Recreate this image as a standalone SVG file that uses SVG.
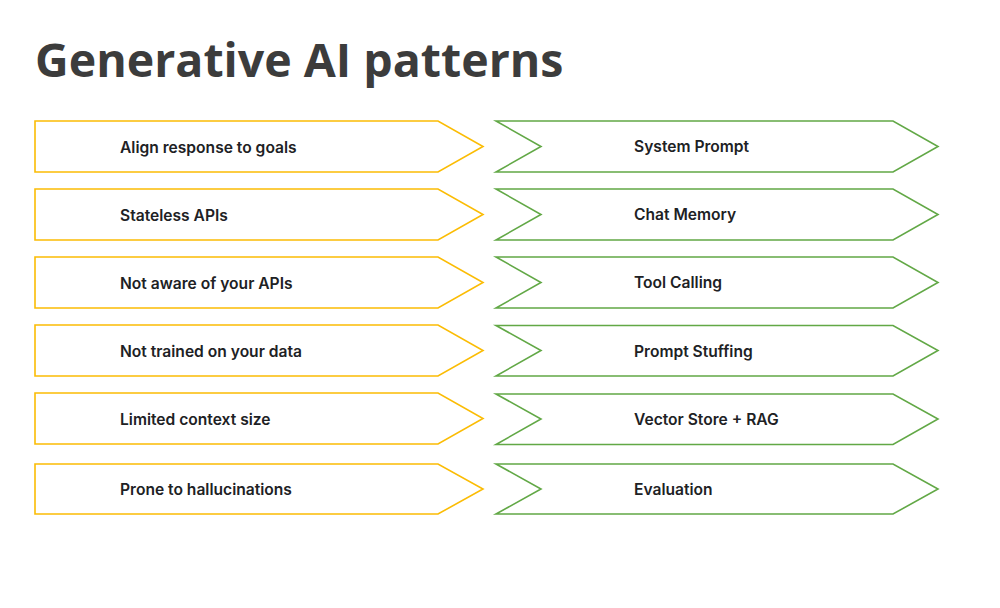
<svg xmlns="http://www.w3.org/2000/svg" width="1000" height="608" viewBox="0 0 1000 608">
<style>
.bg{fill:#ffffff}
.title{font-family:"Open Sans","Liberation Sans",sans-serif;font-weight:700;font-size:46.5px;fill:#3c3c3c}
.prob{fill:#ffffff;stroke:#fbbc04;stroke-width:1.6}
.pat{fill:#ffffff;stroke:#62a846;stroke-width:1.6}
.lbl{font-family:Inter,"Liberation Sans",sans-serif;font-weight:600;font-size:15.6px;fill:#202124}
</style>
<rect class="bg" x="0" y="0" width="1000" height="608"/>
<text class="title" x="35" y="77">Generative AI patterns</text>
<g id="problems">
<g id="p1"><polygon class="prob" points="35,121 438,121 483,146.5 438,172 35,172"/><text class="lbl" x="120" y="152.5">Align response to goals</text></g>
<g id="p2"><polygon class="prob" points="35,189 438,189 483,214.5 438,240 35,240"/><text class="lbl" x="120" y="220.5">Stateless APIs</text></g>
<g id="p3"><polygon class="prob" points="35,257 438,257 483,282.5 438,308 35,308"/><text class="lbl" x="120" y="288.5">Not aware of your APIs</text></g>
<g id="p4"><polygon class="prob" points="35,325 438,325 483,350.5 438,376 35,376"/><text class="lbl" x="120" y="356.5">Not trained on your data</text></g>
<g id="p5"><polygon class="prob" points="35,393 438,393 483,418.5 438,444 35,444"/><text class="lbl" x="120" y="424.5">Limited context size</text></g>
<g id="p6"><polygon class="prob" points="35,464 438,464 483,489 438,514 35,514"/><text class="lbl" x="120" y="495">Prone to hallucinations</text></g>
</g>
<g id="patterns">
<g id="s1"><polygon class="pat" points="496,121 893,121 938,146.5 893,172 496,172 541,146.5"/><text class="lbl" x="634" y="152">System Prompt</text></g>
<g id="s2"><polygon class="pat" points="496,189 893,189 938,214.5 893,240 496,240 541,214.5"/><text class="lbl" x="634" y="220">Chat Memory</text></g>
<g id="s3"><polygon class="pat" points="496,257 893,257 938,282.5 893,308 496,308 541,282.5"/><text class="lbl" x="634" y="287.5">Tool Calling</text></g>
<g id="s4"><polygon class="pat" points="496,325.5 893,325.5 938,350.5 893,376 496,376 541,350.5"/><text class="lbl" x="634" y="356.5">Prompt Stuffing</text></g>
<g id="s5"><polygon class="pat" points="496,394 893,394 938,419 893,444.5 496,444.5 541,419"/><text class="lbl" x="634" y="425">Vector Store + RAG</text></g>
<g id="s6"><polygon class="pat" points="496,464 893,464 938,489 893,514 496,514 541,489"/><text class="lbl" x="634" y="494.5">Evaluation</text></g>
</g>
<g id="connectors"/>
</svg>
